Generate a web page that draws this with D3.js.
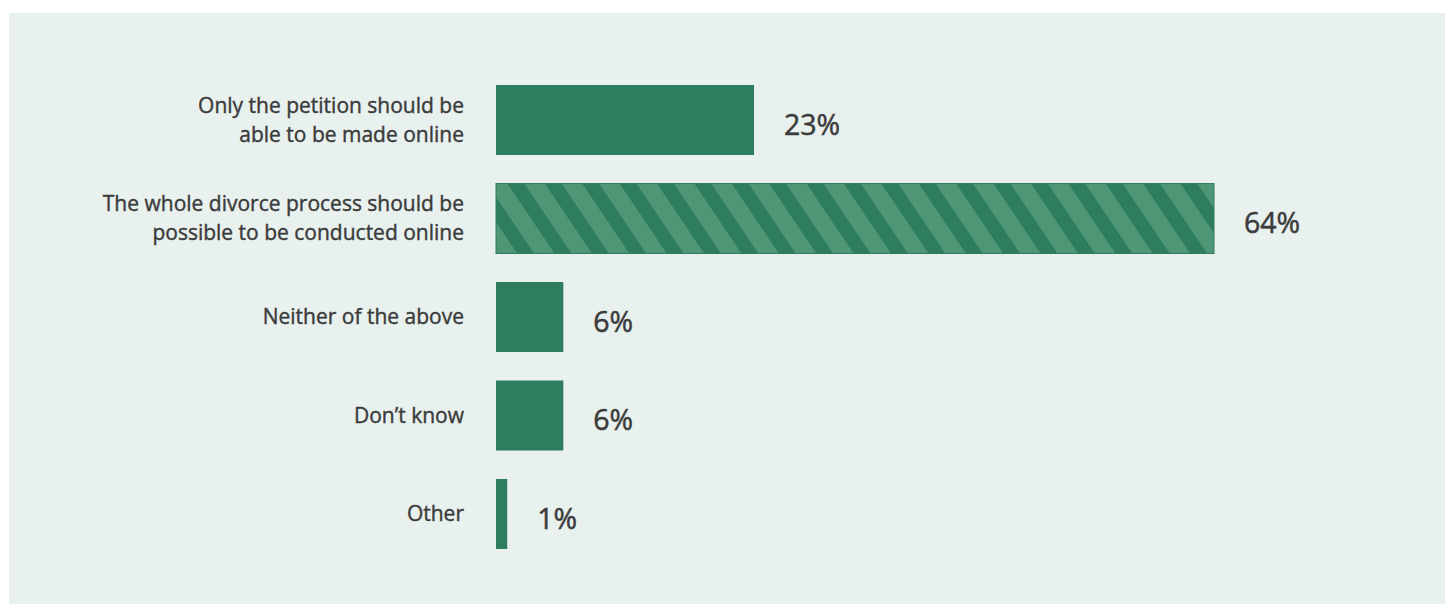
<!DOCTYPE html>
<html>
<head>
<meta charset="utf-8">
<script src="https://cdn.jsdelivr.net/npm/d3@7"></script>
<style>
  html, body { margin: 0; padding: 0; background: #ffffff; }
  svg { display: block; }
</style>
</head>
<body>
<svg id="chart" width="1445" height="606"></svg>
<script>
// Survey answers, top to bottom
const categories = [
  ["Only the petition should be", "able to be made online"],
  ["The whole divorce process should be", "possible to be conducted online"],
  ["Neither of the above"],
  ["Don\u2019t know"],
  ["Other"]
];
const values = [23, 64, 6, 6, 1];
const valueLabels = ["23%", "64%", "6%", "6%", "1%"];
const hatched = [false, true, false, false, false];

const W = 1445, H = 606;
const green = "#2e7d5e", greenLight = "#4e9676", textColor = "#3b3b3b";

const svg = d3.select("#chart");

// light panel behind the chart
svg.append("rect")
  .attr("x", 9).attr("y", 13)
  .attr("width", W - 9).attr("height", H - 15)
  .attr("fill", "#e8f1ee");

// diagonal stripe fill for the highlighted answer
const defs = svg.append("defs");
const pat = defs.append("pattern")
  .attr("id", "stripes")
  .attr("patternUnits", "userSpaceOnUse")
  .attr("width", 31).attr("height", 31)
  .attr("patternTransform", "translate(507,183) rotate(-34)");
pat.append("rect").attr("width", 31).attr("height", 31).attr("fill", greenLight);
pat.append("rect").attr("width", 14).attr("height", 31).attr("fill", green);

const idx = d3.range(values.length);

const x = d3.scaleLinear().domain([0, 64]).range([496, 1214]);
const y = d3.scaleBand().domain(idx).range([85, 549])
  .paddingInner(0.2893).paddingOuter(0);

const g = svg.append("g");

g.selectAll("rect.bar")
  .data(idx)
  .join("rect")
  .attr("class", "bar")
  .attr("x", x(0))
  .attr("y", i => y(i))
  .attr("width", i => x(values[i]) - x(0))
  .attr("height", y.bandwidth())
  .attr("fill", i => hatched[i] ? "url(#stripes)" : green)
  .attr("stroke", i => hatched[i] ? green : "none")
  .attr("stroke-width", 1);

// category labels, right-aligned against the bars (a hairline stroke gives a medium weight)
const lineH = 29;
g.selectAll("text.cat")
  .data(idx)
  .join("text")
  .attr("class", "cat")
  .attr("text-anchor", "end")
  .attr("font-family", "'Open Sans', sans-serif")
  .attr("font-size", 21)
  .attr("fill", textColor)
  .attr("stroke", textColor)
  .attr("stroke-width", 0.4)
  .each(function (i) {
    const lines = categories[i];
    const cy = y(i) + y.bandwidth() / 2;
    const first = cy - (lines.length - 1) * lineH / 2;
    d3.select(this).selectAll("tspan")
      .data(lines)
      .join("tspan")
      .attr("x", 464)
      .attr("y", (d, k) => first + k * lineH)
      .attr("dy", "0.35em")
      .text(d => d);
  });

// value labels to the right of each bar
g.selectAll("text.val")
  .data(idx)
  .join("text")
  .attr("class", "val")
  .attr("x", i => x(values[i]) + 30)
  .attr("y", i => y(i) + y.bandwidth() / 2 + 5)
  .attr("dy", "0.35em")
  .attr("font-family", "'Open Sans', sans-serif")
  .attr("font-size", 28.5)
  .attr("fill", textColor)
  .attr("stroke", textColor)
  .attr("stroke-width", 0.5)
  .text(i => valueLabels[i]);
</script>
</body>
</html>
